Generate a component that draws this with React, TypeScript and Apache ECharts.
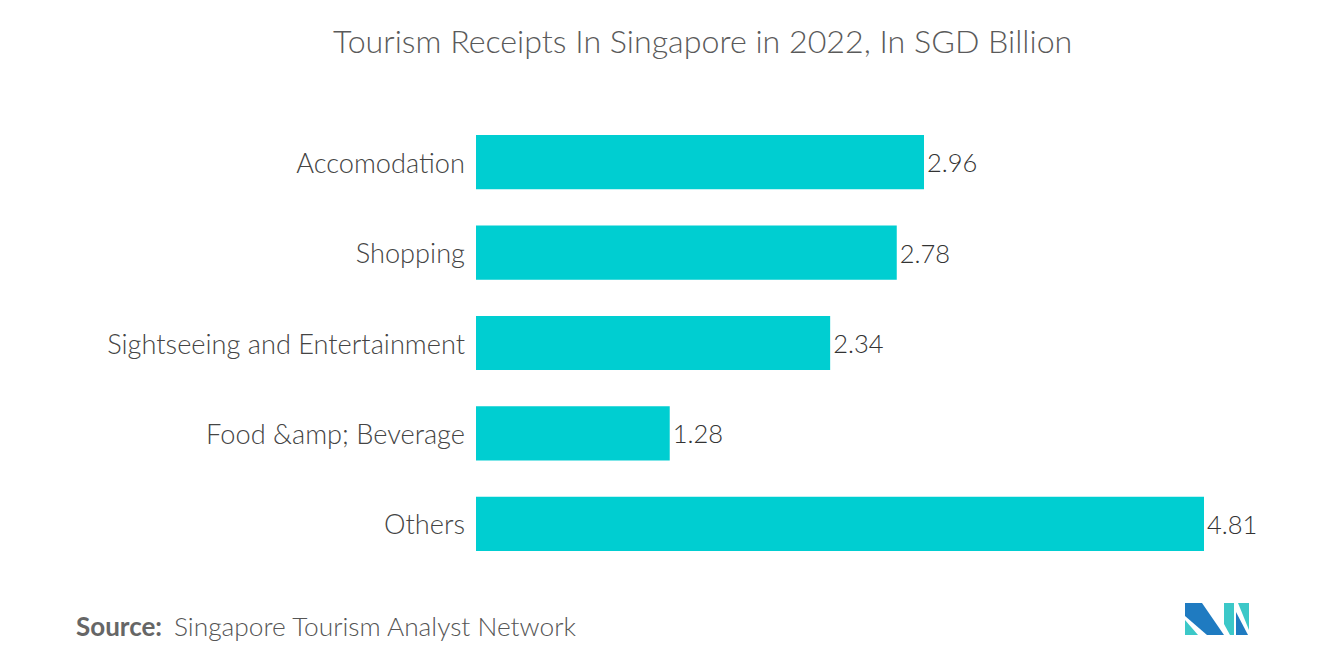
import React, { useEffect, useRef } from "react";
import * as echarts from "echarts";

const categories = ["Accomodation", "Shopping", "Sightseeing and Entertainment", "Food &amp; Beverage", "Others"];
const values = [2.96, 2.78, 2.34, 1.28, 4.81];
const titleText = "Tourism Receipts In Singapore in 2022, In SGD Billion";
const sourceLabel = "Source:";
const sourceText = "Singapore Tourism Analyst Network";

export default function App() {
  const ref = useRef<HTMLDivElement>(null);
  useEffect(() => {
    if (!ref.current) return;
    const chart = echarts.init(ref.current, undefined, { renderer: "svg" });
    const font = "Lato, 'Noto Sans', sans-serif";
    chart.setOption({
      animation: false,
      backgroundColor: "#ffffff",
      title: {
        text: titleText,
        left: 328,
        top: 19,
        textStyle: { fontFamily: font, fontSize: 32.2, fontWeight: 300, color: "#5a5a5a" },
      },
      grid: { left: 476, width: 728, top: 117, height: 452, containLabel: false },
      xAxis: {
        type: "value",
        min: 0,
        max: 4.81,
        show: false,
      },
      yAxis: {
        type: "category",
        data: categories,
        inverse: true,
        axisLine: { show: false },
        axisTick: { show: false },
        splitLine: { show: false },
        axisLabel: { fontFamily: font, fontSize: 27.2, fontWeight: 300, color: "#444444", margin: 11 },
      },
      series: [
        {
          type: "bar",
          data: values,
          barCategoryGap: "40%",
          itemStyle: { color: "#00CED1" },
          label: {
            show: true,
            position: "right",
            distance: 3,
            fontFamily: font,
            fontSize: 25.5,
            fontWeight: 300,
            color: "#333333",
          },
        },
      ],
      graphic: [
        {
          type: "text",
          left: 76,
          top: 613,
          style: { text: sourceLabel, fontFamily: font, fontSize: 26, fontWeight: "bold", fill: "#666666" },
        },
        {
          type: "text",
          left: 174,
          top: 613,
          style: { text: sourceText, fontFamily: font, fontSize: 26.3, fontWeight: 300, fill: "#555555" },
        },
        { type: "polygon", shape: { points: [[1185, 603], [1202, 603], [1224, 635], [1207, 635], [1185, 616]] }, style: { fill: "#1f7bc1" } },
        { type: "polygon", shape: { points: [[1185, 620], [1185, 635], [1198, 635]] }, style: { fill: "#3cc8c8" } },
        { type: "polygon", shape: { points: [[1224, 603], [1234, 603], [1234, 635], [1230, 635], [1224, 624]] }, style: { fill: "#3cc8c8" } },
        { type: "polygon", shape: { points: [[1236, 612], [1248, 635], [1236, 635]] }, style: { fill: "#1f7bc1" } },
        { type: "polygon", shape: { points: [[1238, 603], [1249, 603], [1249, 630]] }, style: { fill: "#3cc8c8" } },
      ],
    });
    return () => chart.dispose();
  }, []);
  return <div ref={ref} style={{ position: "fixed", left: 0, top: 0, width: 1320, height: 665 }} />;
}
